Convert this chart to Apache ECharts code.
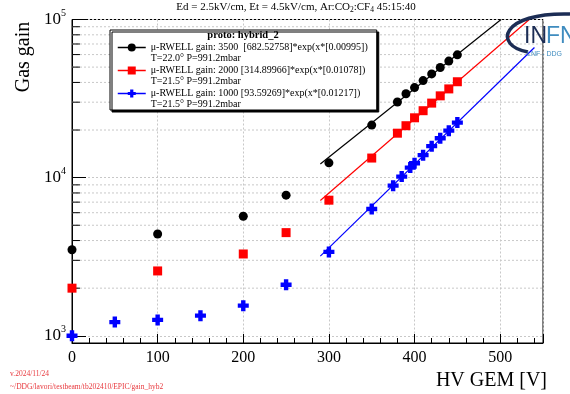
<!DOCTYPE html>
<html>
<head>
<meta charset="utf-8">
<title>gain_hyb2</title>
<script src="https://cdn.jsdelivr.net/npm/echarts@6/dist/echarts.min.js"></script>
<style>
  html, body { margin: 0; padding: 0; background: #fff; }
  #chart { width: 570px; height: 394px; }
</style>
</head>
<body>
<div id="chart"></div>
<script>
// gas gain vs HV GEM, three u-RWELL settings
const hvBlack = [0, 100, 200, 250, 300, 350, 380, 390, 400, 410, 420, 430, 440, 450];
const gainBlack = [3500, 4400, 5700, 7750, 12400, 21500, 30100, 33900, 37100, 41100, 45300, 49700, 54600, 59800];
const hvRed = [0, 100, 200, 250, 300, 350, 380, 390, 400, 410, 420, 430, 440, 450];
const gainRed = [2000, 2570, 3290, 4490, 7200, 13300, 19100, 21300, 23900, 26500, 29600, 32900, 36400, 40400];
const hvBlue = [0, 50, 100, 150, 200, 250, 300, 350, 375, 385, 395, 400, 410, 420, 430, 440, 450];
const gainBlue = [1000, 1220, 1260, 1340, 1550, 2100, 3390, 6340, 8900, 10150, 11570, 12330, 13870, 15810, 17740, 19820, 22290];

// fitted exponentials, end points
const fitBlack = [[290, 12200], [501, 100000]];
const fitRed = [[290, 7170], [534, 100000]];
const fitBlue = [[290, 3190], [540, 66500]];

// log minor grid values (2..9 x 10^n)
const minorVals = [2000, 3000, 4000, 5000, 6000, 7000, 8000, 9000,
  20000, 30000, 40000, 50000, 60000, 70000, 80000, 90000];

const seriesNames = [
  'μ-RWELL gain: 3500  [682.52758]*exp(x*[0.00995])',
  'μ-RWELL gain: 2000 [314.89966]*exp(x*[0.01078])',
  'μ-RWELL gain: 1000 [93.59269]*exp(x*[0.01217])'
];
const seriesNotes = ['T=22.0° P=991.2mbar', 'T=21.5° P=991.2mbar', 'T=21.5° P=991.2mbar'];

const serif = 'Liberation Serif';
const plusPath = 'path://M3,0H7V3H10V7H7V10H3V7H0V3H3Z';
const gridStyle = { color: '#c8c8c8', type: [2, 2], width: 1 };

function pairs(xs, ys) {
  return xs.map((x, i) => [x, ys[i]]);
}

function pointSeries(name, xs, ys, color, symbol, size) {
  return {
    name: name,
    type: 'line',
    data: pairs(xs, ys),
    symbol: symbol,
    symbolSize: size,
    showSymbol: true,
    itemStyle: { color: color },
    lineStyle: { width: 0, opacity: 0, color: color },
    z: 5,
    silent: true
  };
}

function fitSeries(data, color) {
  return {
    name: 'fit_' + color,
    type: 'line',
    data: data,
    symbol: 'none',
    lineStyle: { width: 1.2, color: color },
    clip: true,
    z: 3,
    silent: true
  };
}

// minor grid lines / minor ticks of the log axis, as broken line segments
function segments(x0, x1) {
  const out = [];
  minorVals.forEach(v => {
    out.push([x0, v], [x1, v], '-');
  });
  return out;
}

function decoSeries(name, data, style, z) {
  return {
    name: name,
    type: 'line',
    data: data,
    symbol: 'none',
    connectNulls: false,
    lineStyle: style,
    z: z,
    silent: true
  };
}

const chart = echarts.init(document.getElementById('chart'));

chart.setOption({
  animation: false,
  backgroundColor: '#fff',
  grid: {
    left: 72,
    right: 27,
    top: 19.5,
    bottom: 51,
    show: true,
    borderColor: '#000',
    borderWidth: 1,
    backgroundColor: 'transparent'
  },
  xAxis: {
    type: 'value',
    min: 0,
    max: 550,
    interval: 100,
    axisLine: { lineStyle: { color: '#000', width: 1 } },
    axisTick: { inside: true, length: 9, lineStyle: { color: '#000' } },
    minorTick: { show: true, splitNumber: 5, length: 5, lineStyle: { color: '#000' } },
    axisLabel: { color: '#000', fontFamily: serif, fontSize: 16, margin: 7, showMaxLabel: false },
    splitLine: { show: true, lineStyle: gridStyle }
  },
  yAxis: {
    type: 'log',
    logBase: 10,
    min: 900,
    max: 100000,
    axisLine: { show: true, lineStyle: { color: '#000', width: 1 } },
    axisTick: { show: true, inside: true, length: 14, lineStyle: { color: '#000' } },
    splitLine: { show: true, lineStyle: gridStyle },
    axisLabel: {
      margin: 6,
      formatter: function (v) {
        const e = Math.round(Math.log10(v));
        if (Math.abs(Math.log10(v) - e) > 1e-6) return '';
        return '{b|10}{s|' + e + '}';
      },
      rich: {
        b: { fontFamily: serif, fontSize: 17, color: '#000', lineHeight: 22 },
        s: { fontFamily: serif, fontSize: 10, color: '#000', lineHeight: 22, verticalAlign: 'top' }
      }
    }
  },
  legend: {
    left: 110,
    top: 30,
    orient: 'vertical',
    data: seriesNames,
    itemWidth: 28,
    itemHeight: 10,
    itemGap: -10,
    padding: [1, 9, 0, 7],
    backgroundColor: '#fff',
    borderColor: '#000',
    borderWidth: 1,
    borderRadius: 0,
    shadowColor: '#000',
    shadowBlur: 0,
    shadowOffsetX: 2,
    shadowOffsetY: 2,
    selectedMode: false,
    lineStyle: { width: 1.5, opacity: 1 },
    textStyle: { fontFamily: serif, fontSize: 10, color: '#000', lineHeight: 11 },
    formatter: function (name) {
      return '\n' + name + '\n' + seriesNotes[seriesNames.indexOf(name)];
    }
  },
  series: [
    decoSeries('minor_grid', segments(0, 550), gridStyle, 1),
    decoSeries('minor_ticks', segments(0, 9.3), { color: '#000', width: 1 }, 2),
    fitSeries(fitBlack, '#000'),
    fitSeries(fitRed, '#ff0000'),
    fitSeries(fitBlue, '#0000ff'),
    pointSeries(seriesNames[0], hvBlack, gainBlack, '#000', 'circle', 9),
    pointSeries(seriesNames[1], hvRed, gainRed, '#ff0000', 'rect', 9),
    pointSeries(seriesNames[2], hvBlue, gainBlue, '#0000ff', plusPath, 11)
  ],
  graphic: [
    {
      type: 'text', x: 296, y: 7, z: 100,
      style: {
        text: '{t|Ed = 2.5kV/cm, Et = 4.5kV/cm, Ar:CO}{u|2}{t|:CF}{u|4}{t| 45:15:40}',
        align: 'center', verticalAlign: 'middle',
        rich: {
          t: { fontFamily: serif, fontSize: 11, fill: '#000', lineHeight: 15 },
          u: { fontFamily: serif, fontSize: 7.5, fill: '#000', lineHeight: 15, verticalAlign: 'bottom' }
        }
      }
    },
    {
      type: 'text', x: 243, y: 35, z: 100,
      style: { text: 'proto: hybrid_2', font: 'bold 10.5px "Liberation Serif"', fill: '#000', align: 'center', verticalAlign: 'middle' }
    },
    {
      type: 'text', x: 24, y: 57, rotation: Math.PI / 2, z: 100,
      style: { text: 'Gas gain', font: '20px "Liberation Serif"', fill: '#000', align: 'center', verticalAlign: 'middle' }
    },
    {
      type: 'text', x: 547, y: 381, z: 100,
      style: { text: 'HV GEM [V]', font: '20px "Liberation Serif"', fill: '#000', align: 'right', verticalAlign: 'middle' }
    },
    {
      type: 'text', x: 10, y: 374, z: 100,
      style: { text: 'v.2024/11/24', font: '7.5px "Liberation Serif"', fill: '#e8383d', verticalAlign: 'middle' }
    },
    {
      type: 'text', x: 10, y: 387, z: 100,
      style: { text: '~/DDG/lavori/testbeam/tb202410/EPIC/gain_hyb2', font: '7.5px "Liberation Serif"', fill: '#e8383d', verticalAlign: 'middle' }
    },
    // INFN logo, cut at the right edge
    {
      type: 'bezierCurve', z: 101,
      shape: { x1: 528, y1: 52, cpx1: 493, cpy1: 46, cpx2: 500, cpy2: 12, x2: 570, y2: 14 },
      style: { stroke: '#1c2d55', lineWidth: 3.5, fill: null }
    },
    {
      type: 'text', x: 524, y: 37, z: 101,
      style: { text: 'IN', font: '23px "Liberation Sans"', fill: '#1c2d55', verticalAlign: 'middle' }
    },
    {
      type: 'text', x: 546, y: 37, z: 101,
      style: { text: 'FN', font: '23px "Liberation Sans"', fill: '#3f8cbf', verticalAlign: 'middle' }
    },
    {
      type: 'text', x: 527, y: 54, z: 101,
      style: { text: 'LNF - DDG', font: '7px "Liberation Sans Narrow", "Liberation Sans"', fill: '#3f8cbf', verticalAlign: 'middle' }
    }
  ]
});
</script>
</body>
</html>
